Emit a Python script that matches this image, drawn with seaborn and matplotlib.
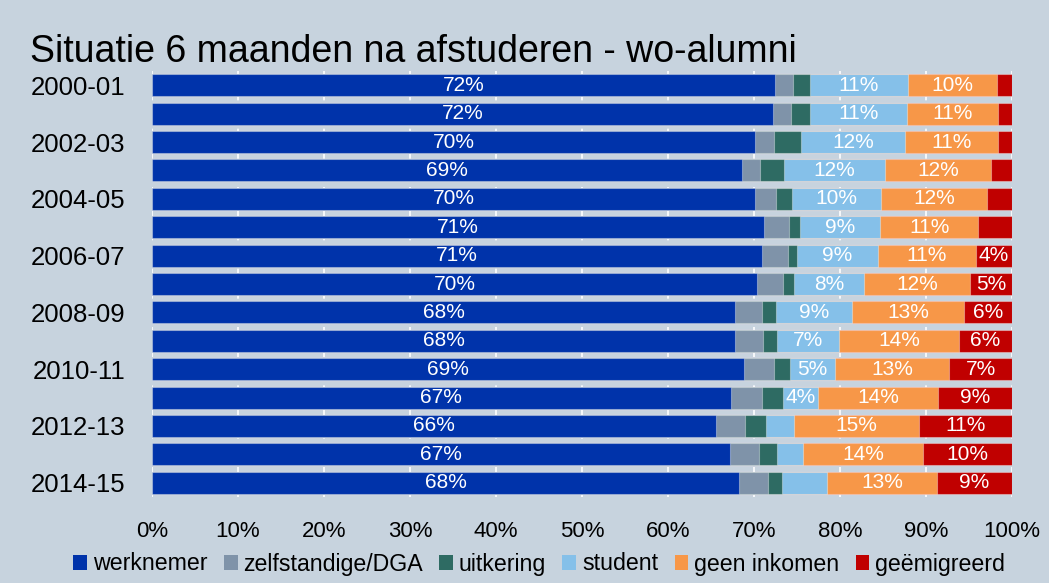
import pandas as pd
import numpy as np
import seaborn as sns
import matplotlib.pyplot as plt
from matplotlib.patches import Patch

# data (aandeel in %, per jaargang)
years = ['2000-01', '2001-02', '2002-03', '2003-04', '2004-05', '2005-06', '2006-07', '2007-08',
         '2008-09', '2009-10', '2010-11', '2011-12', '2012-13', '2013-14', '2014-15']
werknemer = [72.4, 72.2, 70.1, 68.6, 70.1, 71.2, 70.9, 70.4, 67.8, 67.8, 68.8, 67.3, 65.6, 67.2, 68.3]
zelfstandige = [2.1, 2.1, 2.2, 2.1, 2.5, 2.9, 3.1, 3.0, 3.1, 3.2, 3.5, 3.6, 3.4, 3.4, 3.3]
uitkering = [2.0, 2.2, 3.2, 2.8, 1.8, 1.2, 1.0, 1.3, 1.7, 1.7, 1.9, 2.5, 2.4, 2.1, 1.7]
student = [11.4, 11.3, 12.1, 11.7, 10.4, 9.4, 9.4, 8.1, 8.8, 7.2, 5.2, 4.0, 3.2, 3.0, 5.2]
geen_inkomen = [10.4, 10.6, 10.8, 12.4, 12.3, 11.4, 11.4, 12.3, 13.0, 13.9, 13.3, 14.0, 14.6, 14.0, 12.8]
geemigreerd = [1.7, 1.6, 1.6, 2.4, 2.9, 3.9, 4.2, 4.9, 5.6, 6.2, 7.3, 8.6, 10.8, 10.3, 8.7]

series = ['werknemer', 'zelfstandige/DGA', 'uitkering', 'student', 'geen inkomen', 'geëmigreerd']
kleuren = ['#0033aa', '#7f93a9', '#2e6b63', '#85c0e9', '#f79748', '#c00000']
# segmenten zonder label in het origineel
geen_label = {('student', '2014-15')}

bg = '#c7d3de'
sns.set_theme(style='white')
plt.rcParams['font.family'] = ['Liberation Sans', 'DejaVu Sans']
plt.rcParams['text.color'] = 'black'
plt.rcParams['xtick.color'] = 'black'
plt.rcParams['ytick.color'] = 'black'

df = pd.DataFrame({'jaar': years, 'werknemer': werknemer, 'zelfstandige/DGA': zelfstandige,
                   'uitkering': uitkering, 'student': student, 'geen inkomen': geen_inkomen,
                   'geëmigreerd': geemigreerd})
cum = df[series].cumsum(axis=1)

fig = plt.figure(figsize=(10.49, 5.83), dpi=100, facecolor=bg)
ax = fig.add_axes([152 / 1049, 1 - 497 / 583, 860 / 1049, 426 / 583])
ax.set_facecolor(bg)

# gestapelde balken: van achter (totaal) naar voor
for s, c in reversed(list(zip(series, kleuren))):
    sns.barplot(x=cum[s], y=df['jaar'], order=years, orient='h', color=c, saturation=1,
                width=0.78, errorbar=None, edgecolor=(1, 1, 1, 0.35), linewidth=0.8, ax=ax, zorder=2)

# labels in de segmenten
for i, jaar in enumerate(years):
    links = 0
    for s in series:
        w = df.loc[i, s]
        if w >= 4 and (s, jaar) not in geen_label:
            ax.text(links + w / 2, i, f'{w:.0f}%', color='white', fontsize=15,
                    ha='center', va='center', zorder=3)
        links += w

ax.set_xlim(0, 100)
ax.set_ylim(14.5, -0.5)
ax.set_xticks(np.arange(0, 101, 10))
ax.set_xticklabels([f'{v}%' for v in range(0, 101, 10)])
ax.set_yticks(range(len(years)))
ax.set_yticklabels([y if i % 2 == 0 else '' for i, y in enumerate(years)])
ax.tick_params(axis='x', length=0, pad=17, labelsize=16)
ax.tick_params(axis='y', length=0, pad=19, labelsize=18.5)
ax.set_xlabel('')
ax.set_ylabel('')
for sp in ax.spines.values():
    sp.set_visible(False)
ax.set_axisbelow(True)
ax.grid(axis='x', color='white', linestyle=(0, (4, 3)), linewidth=1.2, zorder=0)
ax.grid(axis='y', visible=False)

fig.text(30 / 1049, 1 - 62 / 583, 'Situatie 6 maanden na afstuderen - wo-alumni',
         fontsize=27, va='baseline', ha='left')

handles = [Patch(facecolor=c, edgecolor='none') for c in kleuren]
fig.legend(handles, series, loc='center', bbox_to_anchor=(0.514, 1 - 564 / 583), ncol=6,
           frameon=False, fontsize=16.7, handlelength=0.6, handleheight=0.65,
           handletextpad=0.25, columnspacing=0.7, borderpad=0)

fig.savefig('out.png', dpi=100, facecolor=bg)
